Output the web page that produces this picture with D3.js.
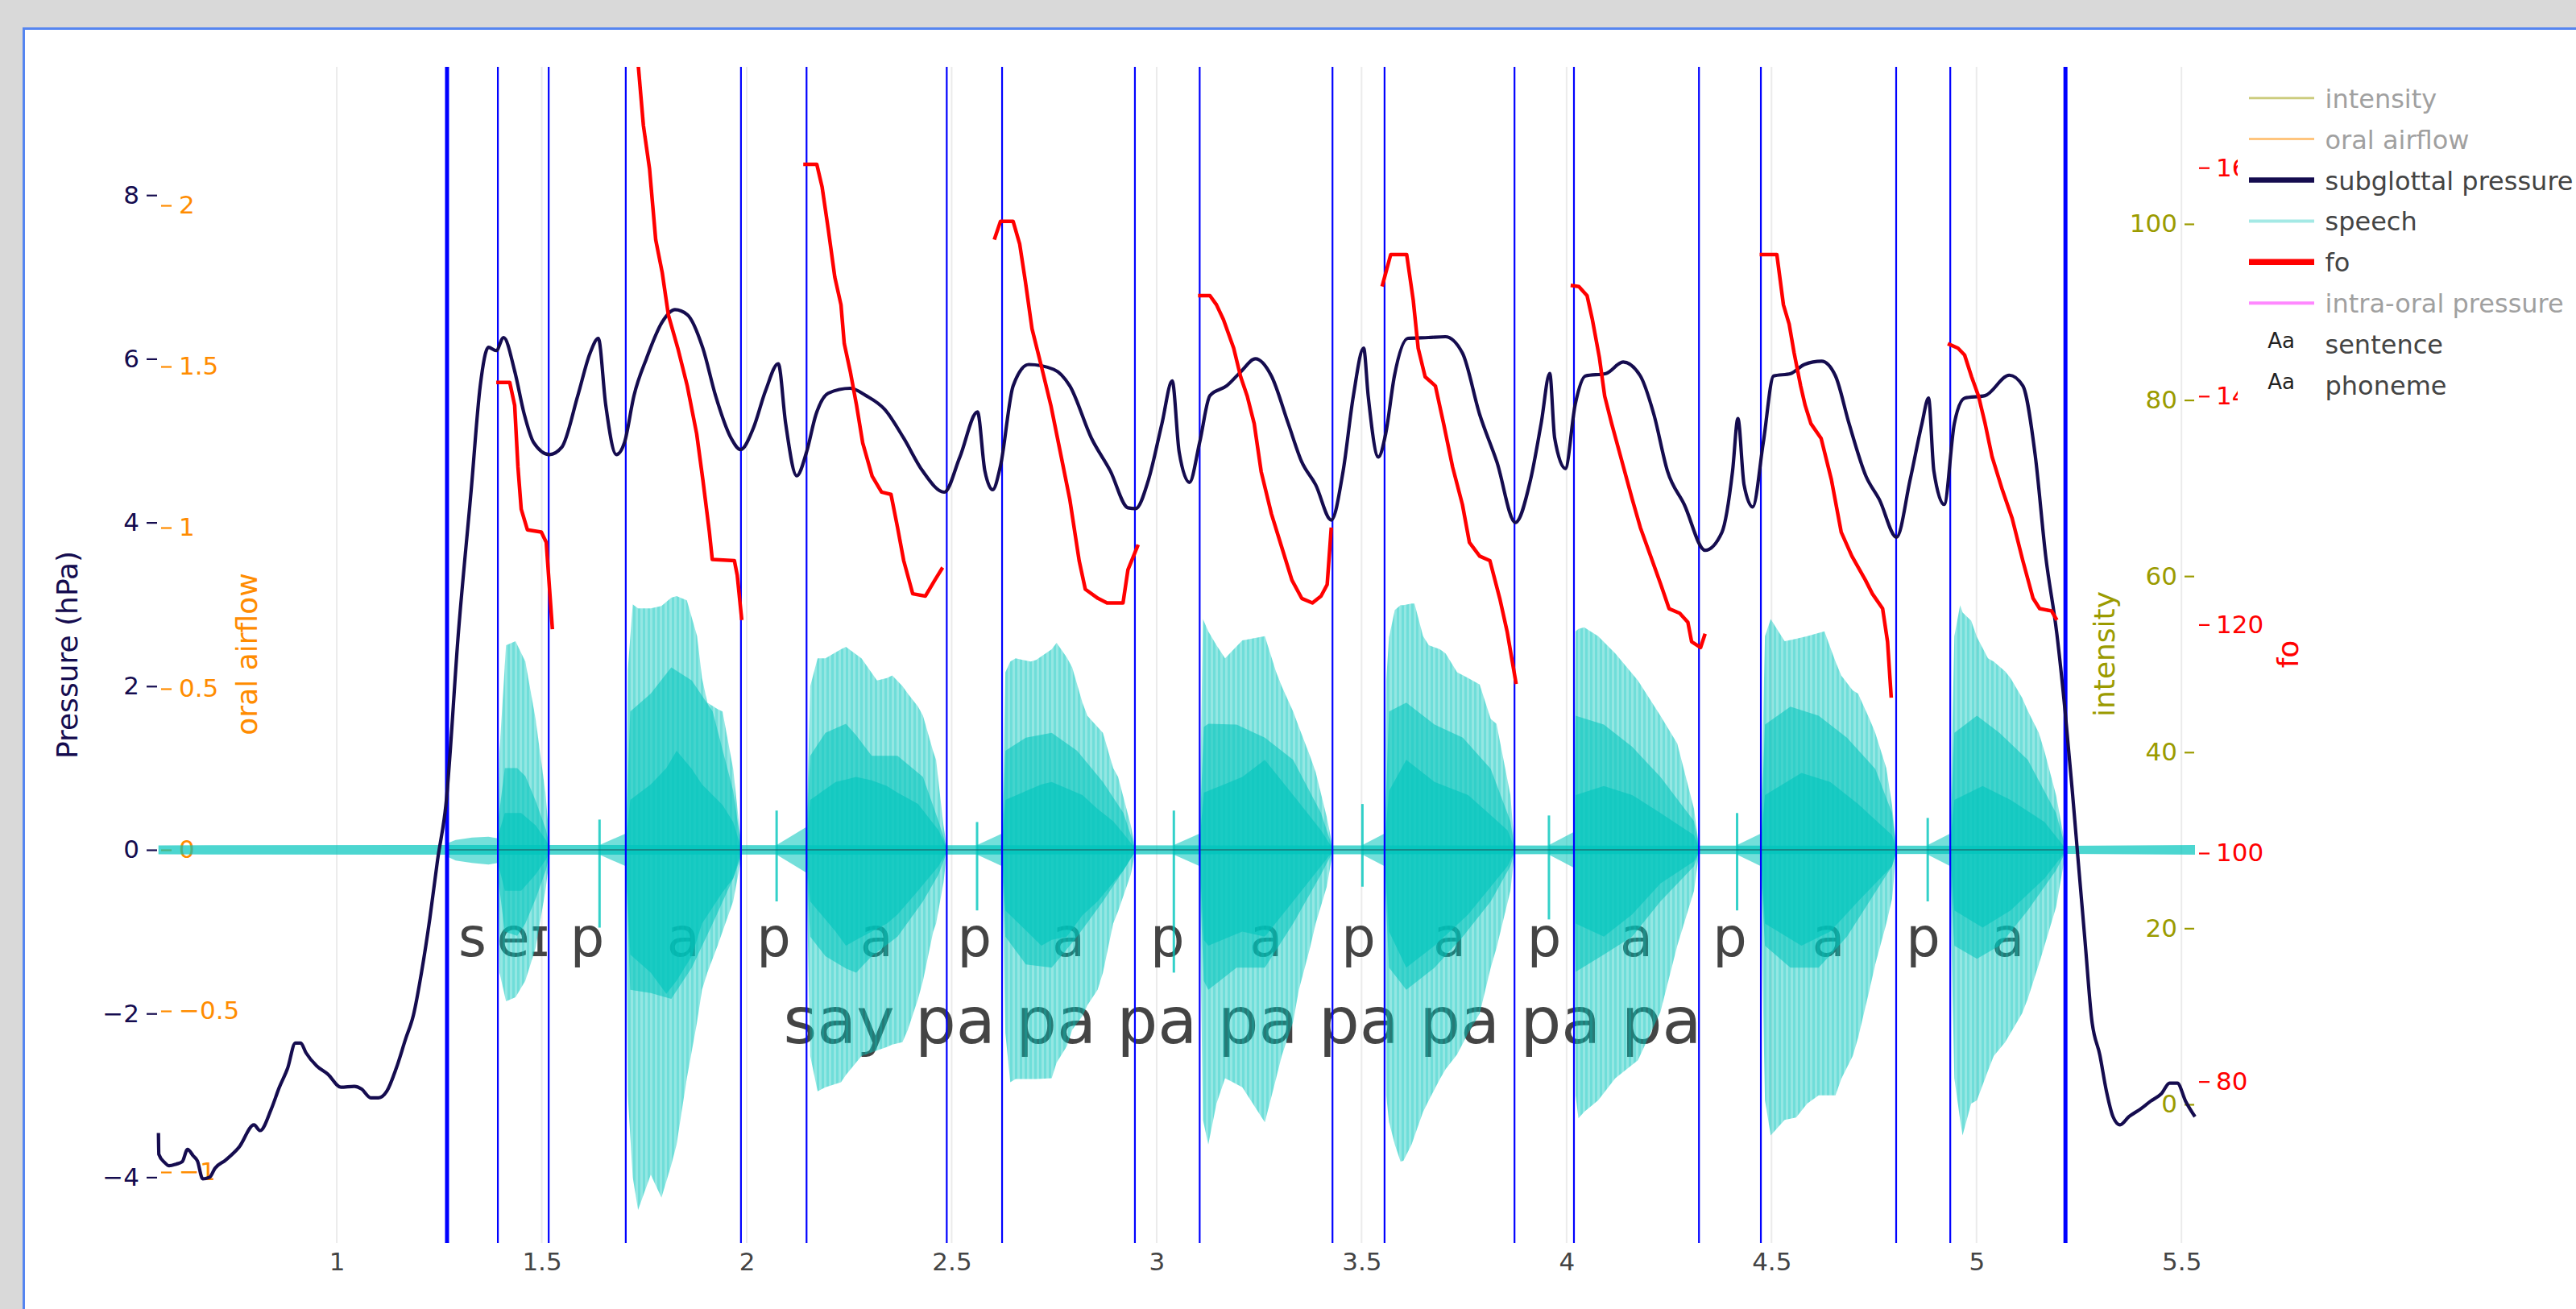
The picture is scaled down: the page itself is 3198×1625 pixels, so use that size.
<!DOCTYPE html>
<html><head><meta charset="utf-8">
<script src="https://cdn.jsdelivr.net/npm/d3@7"></script>
<style>
html,body{margin:0;padding:0;background:#d9d9d9;overflow:hidden;}
svg{display:block;}
text{font-family:"DejaVu Sans",Verdana,sans-serif;}
</style></head><body>
<svg id="chart" width="3198" height="1625"></svg>
<script>
// ---------------- DATA ----------------
const xTicks = [1, 1.5, 2, 2.5, 3, 3.5, 4, 4.5, 5, 5.5];
const pressureTicks = [-4, -2, 0, 2, 4, 6, 8];
const airflowTicks = [-1, -0.5, 0, 0.5, 1, 1.5, 2];
const intensityTicks = [0, 20, 40, 60, 80, 100];
const foTicks = [80, 100, 120, 140, 160];

const phonemeBounds = [1.269, 1.393, 1.517, 1.705, 1.986, 2.146, 2.488, 2.623, 2.947, 3.105, 3.429, 3.556, 3.873, 4.018, 4.323, 4.474, 4.804, 4.936, 5.217];
const phonemeLabels = ["s", "eɪ", "p", "a", "p", "a", "p", "a", "p", "a", "p", "a", "p", "a", "p", "a", "p", "a"];
const sentenceBounds = [1.269, 5.217];
const sentenceText = "say pa pa pa pa pa pa pa pa";

// subglottal pressure (hPa): [time s, value]
const subglottalPressure = [
 [0.565,-3.46],[0.566,-3.72],[0.580,-3.82],[0.591,-3.86],[0.608,-3.84],[0.623,-3.81],[0.636,-3.66],[0.650,-3.74],[0.660,-3.80],[0.673,-4.02],[0.690,-4.00],[0.703,-3.89],[0.729,-3.79],[0.762,-3.63],[0.798,-3.36],[0.813,-3.43],[0.840,-3.17],[0.860,-2.90],[0.880,-2.67],[0.899,-2.36],[0.912,-2.36],[0.925,-2.48],[0.951,-2.64],[0.978,-2.74],[1.010,-2.90],[1.043,-2.89],[1.060,-2.92],[1.083,-3.03],[1.102,-3.03],[1.122,-2.95],[1.145,-2.67],[1.168,-2.31],[1.187,-2.02],[1.207,-1.49],[1.227,-0.84],[1.246,-0.12],[1.266,0.54],
 [1.297,2.67],[1.328,4.40],[1.350,5.67],[1.370,6.14],[1.389,6.10],[1.407,6.26],[1.434,5.85],[1.457,5.33],[1.480,4.98],[1.519,4.83],[1.549,4.92],[1.588,5.55],[1.618,6.07],[1.638,6.25],[1.656,5.44],[1.682,4.83],[1.702,4.98],[1.725,5.55],[1.756,6.01],[1.794,6.45],[1.825,6.60],[1.855,6.54],[1.893,6.13],[1.924,5.55],[1.962,5.03],[1.985,4.89],[2.016,5.15],[2.046,5.61],[2.077,5.94],[2.095,5.21],[2.122,4.57],[2.146,4.86],[2.169,5.32],[2.199,5.58],[2.253,5.64],[2.291,5.55],[2.337,5.38],[2.383,5.03],[2.429,4.63],[2.482,4.37],[2.520,4.80],[2.563,5.35],[2.581,4.63],[2.600,4.40],[2.619,4.69],[2.650,5.67],[2.688,5.93],[2.749,5.87],[2.788,5.67],[2.841,5.03],[2.887,4.63],[2.930,4.18],
 [2.949,4.17],[2.980,4.52],[3.013,5.21],[3.038,5.73],[3.055,4.86],[3.080,4.49],[3.105,4.98],[3.130,5.55],[3.171,5.67],[3.205,5.84],[3.241,6.00],[3.280,5.79],[3.321,5.21],[3.354,4.74],[3.388,4.46],[3.426,4.03],[3.455,4.63],[3.480,5.55],[3.505,6.13],[3.516,5.55],[3.541,4.80],[3.559,5.09],[3.580,5.79],[3.613,6.25],[3.663,6.26],[3.704,6.27],[3.746,6.07],[3.788,5.32],[3.830,4.74],[3.875,4.00],[3.912,4.52],[3.938,5.21],[3.959,5.82],[3.971,5.03],[3.997,4.66],[4.021,5.44],[4.046,5.79],[4.096,5.82],[4.138,5.96],[4.180,5.79],[4.213,5.32],[4.246,4.63],[4.287,4.22],[4.338,3.66],[4.379,3.88],[4.405,4.63],[4.418,5.27],[4.433,4.46],[4.454,4.19],[4.480,4.98],[4.505,5.79],[4.547,5.82],[4.580,5.93],[4.622,5.97],[4.656,5.79],[4.689,5.21],[4.730,4.57],[4.763,4.28],[4.805,3.82],[4.838,4.52],[4.867,5.21],[4.883,5.52],[4.896,4.63],[4.921,4.22],[4.946,5.21],[4.971,5.52],[5.021,5.55],[5.080,5.80],[5.113,5.67],[5.143,4.83],[5.169,3.58],[5.196,2.64],[5.216,1.70],[5.233,0.76],[5.249,-0.19],[5.265,-1.13],[5.281,-2.07],[5.301,-2.51],[5.317,-2.95],[5.333,-3.26],[5.350,-3.36],[5.372,-3.26],[5.399,-3.17],[5.425,-3.07],[5.451,-2.98],[5.471,-2.85],[5.490,-2.85],[5.510,-3.07],[5.533,-3.26]
];

// fo (Hz) per voiced stretch: [time s, Hz]
const foSegments = [
 [[1.389,141.2],[1.422,141.2],[1.434,139.2],[1.442,133.8],[1.450,130.1],[1.465,128.3],[1.499,128.1],[1.511,127.2],[1.526,119.6]],
 [[1.705,172],[1.733,170],[1.748,163.7],[1.763,159.9],[1.778,153.7],[1.794,150.8],[1.809,147.1],[1.832,144.2],[1.855,140.9],[1.878,136.7],[1.893,132.7],[1.909,128.1],[1.916,125.7],[1.970,125.6],[1.977,124.3],[1.988,120.4]],
 [[2.138,160.3],[2.171,160.3],[2.184,158.3],[2.199,154.6],[2.215,150.4],[2.230,148.0],[2.238,144.6],[2.253,142.1],[2.268,139.2],[2.283,135.9],[2.306,133.0],[2.329,131.6],[2.352,131.4],[2.368,128.5],[2.383,125.6],[2.405,122.7],[2.436,122.5],[2.459,123.9],[2.478,125.0]],
 [[2.604,153.7],[2.619,155.3],[2.650,155.3],[2.666,153.3],[2.680,150.0],[2.696,145.9],[2.719,142.6],[2.742,139.2],[2.765,135.1],[2.788,131.0],[2.811,125.6],[2.826,123.1],[2.857,122.3],[2.879,121.9],[2.918,121.9],[2.930,124.8],[2.955,127.0]],
 [[3.101,148.8],[3.130,148.8],[3.146,148.0],[3.163,146.7],[3.188,144.2],[3.205,141.7],[3.221,140.0],[3.238,137.6],[3.255,133.4],[3.280,129.7],[3.305,126.8],[3.330,123.9],[3.354,122.3],[3.380,121.9],[3.401,122.5],[3.416,123.5],[3.426,128.5]],
 [[3.550,149.6],[3.571,152.4],[3.610,152.4],[3.626,148.4],[3.638,144.2],[3.655,141.7],[3.680,140.9],[3.700,137.6],[3.722,133.8],[3.746,130.5],[3.763,127.2],[3.788,126.0],[3.813,125.6],[3.837,122.3],[3.855,119.4],[3.877,114.8]],
 [[4.010,149.7],[4.030,149.6],[4.050,148.8],[4.063,146.7],[4.080,143.4],[4.093,140.0],[4.110,137.6],[4.132,134.7],[4.160,131.0],[4.180,128.5],[4.205,126.0],[4.230,123.5],[4.250,121.4],[4.276,121.0],[4.296,120.2],[4.305,118.5],[4.327,118.0],[4.338,119.2]],
 [[4.471,152.4],[4.513,152.4],[4.529,148.0],[4.543,146.3],[4.555,143.8],[4.571,140.9],[4.582,139.2],[4.596,137.6],[4.621,136.3],[4.646,132.7],[4.670,128.1],[4.696,126.0],[4.729,123.9],[4.746,122.7],[4.771,121.4],[4.783,118.5],[4.792,113.6]],
 [[4.930,144.6],[4.955,144.2],[4.971,143.6],[4.988,141.7],[5.005,140.0],[5.021,137.6],[5.038,134.7],[5.063,131.8],[5.087,129.3],[5.113,125.6],[5.138,122.3],[5.154,121.4],[5.183,121.2],[5.196,120.4]]
];

// speech waveform envelopes (same units as pressure axis): [time, upper, lower]
const speechOuter = [
 [[1.393,0,0],[1.397,1.2,-1.5],[1.413,2.5,-1.85],[1.436,2.55,-1.8],[1.460,2.3,-1.6],[1.485,1.6,-1.2],[1.509,0.7,-0.5],[1.519,0.1,-0.1]],
 [[1.705,0.3,-0.3],[1.710,2.2,-3.0],[1.722,3.0,-4.0],[1.735,2.95,-4.4],[1.766,2.95,-3.97],[1.792,2.98,-4.25],[1.816,3.08,-3.85],[1.829,3.1,-3.6],[1.854,3.05,-2.79],[1.879,2.61,-2.1],[1.891,2.1,-1.71],[1.904,1.8,-1.5],[1.929,1.72,-1.17],[1.941,1.69,-1.0],[1.967,0.99,-0.63],[1.985,0.15,-0.15]],
 [[2.146,0.2,-0.3],[2.155,2.0,-2.52],[2.173,2.34,-2.95],[2.192,2.34,-2.9],[2.230,2.45,-2.84],[2.242,2.48,-2.75],[2.280,2.34,-2.52],[2.318,2.07,-2.45],[2.342,2.1,-2.41],[2.355,2.13,-2.38],[2.380,2.0,-2.35],[2.393,1.91,-2.2],[2.418,1.75,-1.82],[2.430,1.64,-1.6],[2.455,1.2,-1.0],[2.462,1.1,-0.9],[2.480,0.3,-0.4],[2.488,0.05,-0.05]],
 [[2.623,0.2,-0.3],[2.631,2.17,-2.24],[2.643,2.3,-2.84],[2.656,2.34,-2.8],[2.693,2.3,-2.8],[2.706,2.32,-2.8],[2.744,2.45,-2.79],[2.756,2.53,-2.6],[2.781,2.35,-2.4],[2.794,2.23,-2.2],[2.819,1.8,-2.03],[2.831,1.64,-1.9],[2.856,1.5,-1.71],[2.869,1.43,-1.5],[2.894,1.0,-0.9],[2.906,0.89,-0.75],[2.937,0.3,-0.3],[2.947,0.05,-0.05]],
 [[3.105,0.3,-0.5],[3.113,2.82,-3.3],[3.126,2.67,-3.6],[3.146,2.5,-3.1],[3.167,2.34,-2.79],[3.209,2.56,-2.9],[3.264,2.61,-3.33],[3.291,2.18,-2.8],[3.305,2.0,-2.52],[3.333,1.69,-2.1],[3.347,1.5,-1.71],[3.374,1.15,-1.2],[3.388,0.95,-0.9],[3.415,0.4,-0.45],[3.429,0.05,-0.05]],
 [[3.556,0.3,-0.5],[3.560,2.07,-3.0],[3.567,2.6,-3.33],[3.581,2.93,-3.6],[3.595,2.99,-3.81],[3.602,2.99,-3.8],[3.622,3.01,-3.6],[3.629,3.01,-3.5],[3.650,2.61,-3.2],[3.664,2.5,-3.06],[3.691,2.45,-2.8],[3.705,2.4,-2.68],[3.733,2.17,-2.5],[3.760,2.1,-2.24],[3.788,2.02,-2.0],[3.815,1.6,-1.44],[3.829,1.54,-1.2],[3.863,0.67,-0.5],[3.873,0.05,-0.05]],
 [[4.018,0.3,-0.5],[4.022,2.67,-3.0],[4.029,2.7,-3.28],[4.043,2.72,-3.2],[4.077,2.61,-3.06],[4.119,2.4,-2.79],[4.174,2.07,-2.57],[4.229,1.64,-1.98],[4.270,1.3,-1.17],[4.311,0.5,-0.5],[4.323,0.05,-0.05]],
 [[4.474,0.3,-0.5],[4.484,2.61,-3.06],[4.498,2.82,-3.49],[4.532,2.55,-3.3],[4.560,2.58,-3.27],[4.587,2.61,-3.1],[4.615,2.65,-3.0],[4.629,2.67,-3.0],[4.656,2.3,-3.0],[4.670,2.13,-2.8],[4.698,1.95,-2.52],[4.711,1.91,-2.3],[4.739,1.6,-1.71],[4.753,1.43,-1.4],[4.780,1.0,-0.9],[4.794,0.55,-0.6],[4.804,0.05,-0.05]],
 [[4.936,0.3,-0.5],[4.946,2.61,-2.79],[4.960,2.99,-3.3],[4.966,2.9,-3.49],[4.987,2.8,-3.1],[5.001,2.6,-3.06],[5.028,2.34,-2.7],[5.042,2.3,-2.52],[5.070,2.18,-2.35],[5.083,2.1,-2.24],[5.111,1.86,-2.0],[5.125,1.7,-1.82],[5.152,1.43,-1.4],[5.166,1.2,-1.17],[5.194,0.67,-0.7],[5.217,0.05,-0.05]]
];
const speechMid = [
 [[1.395,0.4,-0.4],[1.41,1.0,-1.0],[1.44,1.0,-1.05],[1.46,0.9,-0.9],[1.485,0.6,-0.6],[1.51,0.25,-0.25],[1.519,0.05,-0.05]],
 [[1.705,0.2,-0.2],[1.716,1.69,-1.71],[1.766,1.91,-1.75],[1.816,2.23,-1.82],[1.866,2.07,-1.44],[1.917,1.69,-0.9],[1.967,0.72,-0.35],[1.985,0.1,-0.1]],
 [[2.146,0.2,-0.2],[2.155,1.15,-1.06],[2.192,1.43,-1.3],[2.242,1.54,-1.45],[2.267,1.4,-1.5],[2.305,1.15,-1.3],[2.368,1.15,-1.06],[2.430,0.89,-0.63],[2.468,0.35,-0.3],[2.488,0.03,-0.03]],
 [[2.623,0.2,-0.2],[2.631,1.21,-1.06],[2.681,1.37,-1.4],[2.744,1.43,-1.44],[2.806,1.21,-1.06],[2.869,0.83,-0.63],[2.919,0.45,-0.25],[2.947,0.03,-0.03]],
 [[3.105,0.2,-0.3],[3.115,1.5,-1.6],[3.126,1.54,-1.71],[3.195,1.53,-1.44],[3.264,1.37,-1.44],[3.333,1.1,-0.9],[3.401,0.45,-0.3],[3.429,0.03,-0.03]],
 [[3.556,0.2,-0.3],[3.567,1.69,-1.44],[3.609,1.8,-1.71],[3.678,1.53,-1.44],[3.747,1.37,-1.06],[3.815,0.99,-0.63],[3.863,0.35,-0.2],[3.873,0.03,-0.03]],
 [[4.018,0.2,-0.3],[4.022,1.64,-1.49],[4.091,1.53,-1.28],[4.160,1.26,-1.06],[4.229,0.89,-0.63],[4.311,0.35,-0.2],[4.323,0.03,-0.03]],
 [[4.474,0.2,-0.3],[4.484,1.53,-1.17],[4.546,1.75,-1.44],[4.615,1.64,-1.44],[4.684,1.37,-1.06],[4.753,0.99,-0.52],[4.794,0.45,-0.2],[4.804,0.03,-0.03]],
 [[4.936,0.2,-0.3],[4.946,1.43,-1.17],[5.001,1.64,-1.33],[5.056,1.43,-1.17],[5.125,1.1,-0.74],[5.194,0.45,-0.25],[5.217,0.03,-0.03]]
];
const speechCore = [
 [[1.395,0.2,-0.2],[1.41,0.45,-0.5],[1.45,0.45,-0.5],[1.485,0.3,-0.3],[1.51,0.12,-0.12],[1.519,0.03,-0.03]],
 [[1.705,0.1,-0.1],[1.716,0.61,-1.28],[1.766,0.8,-1.5],[1.804,1.0,-1.76],[1.829,1.21,-1.6],[1.866,0.99,-1.3],[1.891,0.8,-0.9],[1.941,0.55,-0.52],[1.967,0.34,-0.35],[1.985,0.05,-0.05]],
 [[2.146,0.1,-0.1],[2.155,0.61,-0.63],[2.217,0.83,-1.0],[2.242,0.86,-1.17],[2.267,0.89,-1.1],[2.305,0.85,-1.0],[2.342,0.78,-0.9],[2.368,0.7,-0.79],[2.418,0.56,-0.5],[2.468,0.24,-0.2],[2.488,0.02,-0.02]],
 [[2.623,0.1,-0.1],[2.631,0.61,-0.74],[2.719,0.8,-1.17],[2.744,0.83,-1.1],[2.781,0.75,-1.06],[2.819,0.67,-0.8],[2.856,0.5,-0.63],[2.894,0.35,-0.4],[2.919,0.2,-0.25],[2.947,0.02,-0.02]],
 [[3.105,0.1,-0.1],[3.115,0.7,-1.1],[3.126,0.72,-1.17],[3.209,0.89,-1.0],[3.264,1.1,-1.06],[3.333,0.67,-0.63],[3.401,0.24,-0.2],[3.429,0.02,-0.02]],
 [[3.556,0.1,-0.1],[3.567,0.72,-1.0],[3.609,1.1,-1.44],[3.678,0.83,-1.17],[3.760,0.67,-0.79],[3.856,0.24,-0.2],[3.873,0.02,-0.02]],
 [[4.018,0.1,-0.1],[4.022,0.67,-0.9],[4.091,0.78,-1.06],[4.160,0.67,-0.79],[4.229,0.45,-0.41],[4.311,0.18,-0.14],[4.323,0.02,-0.02]],
 [[4.474,0.1,-0.1],[4.484,0.67,-0.9],[4.573,0.94,-1.17],[4.643,0.83,-1.0],[4.711,0.56,-0.63],[4.794,0.18,-0.2],[4.804,0.02,-0.02]],
 [[4.936,0.1,-0.1],[4.946,0.61,-0.74],[5.015,0.78,-0.95],[5.083,0.61,-0.74],[5.166,0.34,-0.35],[5.217,0.02,-0.02]]
];
const speechBaselineNoise = [[0.565,0.055,-0.055],[1.269,0.06,-0.06],[5.217,0.05,-0.05],[5.533,0.06,-0.06]];
const speechFricative = [[1.269,0.08,-0.08],[1.290,0.12,-0.13],[1.330,0.15,-0.16],[1.370,0.16,-0.18],[1.393,0.14,-0.16]];
const speechAspiration = [[1.641,1.705,0.2],[2.073,2.146,0.28],[2.562,2.623,0.2],[3.042,3.105,0.2],[3.502,3.556,0.2],[3.957,4.018,0.22],[4.416,4.474,0.2],[4.881,4.936,0.2]];
const speechBursts = [[1.641,0.37,-0.95],[2.073,0.48,-0.63],[2.562,0.34,-0.74],[3.042,0.48,-1.5],[3.502,0.56,-0.45],[3.957,0.42,-0.85],[4.416,0.45,-0.74],[4.881,0.39,-0.63]];

const legendItems = [
 {name:"intensity", color:"#9b9b00", width:3, hidden:true},
 {name:"oral airflow", color:"#ff8c00", width:3, hidden:true},
 {name:"subglottal pressure", color:"#150c4f", width:6.5, hidden:false},
 {name:"speech", color:"#a4e9e5", width:4, hidden:false},
 {name:"fo", color:"#ff0000", width:7.5, hidden:false},
 {name:"intra-oral pressure", color:"#ff14ff", width:4, hidden:true},
 {name:"sentence", text:true},
 {name:"phoneme", text:true}
];

// ---------------- DRAW ----------------
const W = 3198, H = 1625;
const NAVY = "#150c4f", ORANGE = "#ff8c00", OLIVE = "#9b9b00", RED = "#ff0000", GREY = "#444";
const svg = d3.select("#chart");
svg.append("rect").attr("width", W).attr("height", H).attr("fill", "#d9d9d9");
svg.append("rect").attr("x", 29.5).attr("y", 35.5).attr("width", W + 10).attr("height", H + 10)
  .attr("fill", "#fff").attr("stroke", "#5585f0").attr("stroke-width", 3);

const plot = {left: 196.7, right: 2725, top: 83, bottom: 1543};
const x = d3.scaleLinear().domain([0.565, 5.533]).range([plot.left, plot.right]);
const yP = d3.scaleLinear().domain([-4.803, 9.567]).range([plot.bottom, plot.top]);
const yA = d3.scaleLinear().domain([-1.22, 2.43]).range([plot.bottom, plot.top]);
const yI = d3.scaleLinear().domain([-15.74, 117.84]).range([plot.bottom, plot.top]);
const yF = d3.scaleLinear().domain([65.87, 168.83]).range([plot.bottom, plot.top]);

const defs = svg.append("defs");
defs.append("clipPath").attr("id", "plotclip").append("rect")
  .attr("x", plot.left).attr("y", plot.top).attr("width", plot.right - plot.left).attr("height", plot.bottom - plot.top);
const pat = defs.append("pattern").attr("id", "stripes").attr("patternUnits", "userSpaceOnUse")
  .attr("width", 6).attr("height", 20);
pat.append("rect").attr("width", 6).attr("height", 20).attr("fill", "rgba(0,197,188,0.42)");
pat.append("rect").attr("width", 3).attr("height", 20).attr("fill", "rgba(0,197,188,0.25)");

// gridlines
svg.append("g").selectAll("line").data(xTicks).join("line")
  .attr("x1", d => x(d)).attr("x2", d => x(d)).attr("y1", plot.top).attr("y2", plot.bottom)
  .attr("stroke", "#ebebeb").attr("stroke-width", 2);

const fmt = d3.format("~g");
function styleAxis(g, color, fontSize) {
  g.select(".domain").remove();
  g.selectAll(".tick line").attr("stroke", color).attr("stroke-width", 2.2);
  g.selectAll(".tick text").attr("fill", color).attr("font-size", fontSize)
    .attr("font-family", "DejaVu Sans, Verdana, sans-serif");
}
svg.append("g").attr("transform", `translate(0,${plot.bottom})`)
  .call(d3.axisBottom(x).tickValues(xTicks).tickFormat(fmt).tickSize(0).tickPadding(12))
  .call(g => styleAxis(g, GREY, 31));
svg.append("g").attr("transform", "translate(195,0)")
  .call(d3.axisLeft(yP).tickValues(pressureTicks).tickFormat(fmt).tickSize(13).tickPadding(9))
  .call(g => styleAxis(g, NAVY, 31));
svg.append("g").attr("transform", "translate(200,0)")
  .call(d3.axisRight(yA).tickValues(airflowTicks).tickFormat(fmt).tickSize(13).tickPadding(9))
  .call(g => styleAxis(g, ORANGE, 31));
svg.append("g").attr("transform", "translate(2724,0)")
  .call(d3.axisLeft(yI).tickValues(intensityTicks).tickFormat(fmt).tickSize(12).tickPadding(9))
  .call(g => styleAxis(g, OLIVE, 31));
svg.append("g").attr("transform", "translate(2730,0)")
  .call(d3.axisRight(yF).tickValues(foTicks).tickFormat(fmt).tickSize(13).tickPadding(8))
  .call(g => styleAxis(g, RED, 31));

// phoneme + sentence labels (under the waveform)
const labels = svg.append("g").attr("fill", GREY);
labels.selectAll("text.ph").data(phonemeLabels).join("text").attr("class", "ph")
  .attr("x", (d, i) => x((phonemeBounds[i] + phonemeBounds[i + 1]) / 2))
  .attr("y", 1187).attr("text-anchor", "middle").attr("font-size", 67).text(d => d);
labels.append("text")
  .attr("x", x((sentenceBounds[0] + sentenceBounds[1]) / 2)).attr("dx", -17).attr("y", 1295)
  .attr("text-anchor", "middle").attr("font-size", 80).text(sentenceText);

// speech waveform
const sp = svg.append("g");
const env = d3.area().x(d => x(d[0])).y0(d => yP(d[2])).y1(d => yP(d[1]));
const SPC = "rgba(0,197,188,0.55)";
sp.append("path").datum(speechBaselineNoise).attr("d", env).attr("fill", "rgba(0,197,188,0.7)");
sp.append("path").datum(speechFricative).attr("d", env).attr("fill", SPC);
sp.selectAll("path.asp").data(speechAspiration).join("path").attr("class", "asp")
  .attr("d", d => env([[d[0], 0.06, -0.06], [d[1], d[2], -d[2]]])).attr("fill", SPC);
sp.selectAll("line.burst").data(speechBursts).join("line").attr("class", "burst")
  .attr("x1", d => x(d[0])).attr("x2", d => x(d[0]))
  .attr("y1", d => yP(d[1])).attr("y2", d => yP(d[2]))
  .attr("stroke", "rgba(0,197,188,0.8)").attr("stroke-width", 3);
sp.selectAll("path.outer").data(speechOuter).join("path").attr("class", "outer")
  .attr("d", env).attr("fill", "url(#stripes)");
sp.selectAll("path.mid").data(speechMid).join("path").attr("class", "mid")
  .attr("d", env).attr("fill", SPC);
sp.selectAll("path.core").data(speechCore).join("path").attr("class", "core")
  .attr("d", env).attr("fill", "rgba(0,197,188,0.6)");
svg.append("line").attr("x1", x(sentenceBounds[0])).attr("x2", x(sentenceBounds[1]))
  .attr("y1", yP(0)).attr("y2", yP(0)).attr("stroke", "#1f5c60").attr("stroke-opacity", 0.75).attr("stroke-width", 1.6);

// boundaries
svg.append("g").selectAll("line").data(phonemeBounds).join("line")
  .attr("x1", d => x(d)).attr("x2", d => x(d)).attr("y1", plot.top).attr("y2", plot.bottom)
  .attr("stroke", "#0000ff").attr("stroke-width", 2.2);
svg.append("g").selectAll("line").data(sentenceBounds).join("line")
  .attr("x1", d => x(d)).attr("x2", d => x(d)).attr("y1", plot.top).attr("y2", plot.bottom)
  .attr("stroke", "#0000ff").attr("stroke-width", 5);

// subglottal pressure
svg.append("path").datum(subglottalPressure)
  .attr("d", d3.line().x(d => x(d[0])).y(d => yP(d[1])).curve(d3.curveMonotoneX))
  .attr("fill", "none").attr("stroke", NAVY).attr("stroke-width", 4.2).attr("stroke-linejoin", "round");

// fo
svg.append("g").attr("clip-path", "url(#plotclip)").selectAll("path").data(foSegments).join("path")
  .attr("d", d3.line().x(d => x(d[0])).y(d => yF(d[1])))
  .attr("fill", "none").attr("stroke", RED).attr("stroke-width", 4.5).attr("stroke-linejoin", "round");

// axis titles
function vTitle(txt, cx, cy, color) {
  svg.append("text").attr("transform", `translate(${cx},${cy}) rotate(-90)`)
    .attr("text-anchor", "middle").attr("dominant-baseline", "central")
    .attr("font-size", 36).attr("fill", color).text(txt);
}
vTitle("Pressure (hPa)", 83, 813, NAVY);
vTitle("oral airflow", 306, 812, ORANGE);
vTitle("intensity", 2612, 812, OLIVE);
vTitle("fo", 2840, 812, RED);

// legend
const lg = svg.append("g");
lg.append("rect").attr("x", 2778).attr("y", 88).attr("width", 430).attr("height", 422).attr("fill", "#fff");
const rows = lg.selectAll("g.item").data(legendItems).join("g").attr("class", "item")
  .attr("transform", (d, i) => `translate(2792,${121.7 + i * 50.9})`)
  .attr("opacity", d => d.hidden ? 0.5 : 1);
rows.filter(d => !d.text).append("line").attr("x1", 0).attr("x2", 81).attr("y1", 0).attr("y2", 0)
  .attr("stroke", d => d.color).attr("stroke-width", d => d.width);
rows.filter(d => d.text).append("text").attr("x", 40).attr("y", 5).attr("text-anchor", "middle")
  .attr("font-size", 26).attr("fill", "#222").text("Aa");
rows.append("text").attr("x", 94.5).attr("y", 12).attr("font-size", 32).attr("fill", GREY).text(d => d.name);
</script>
</body></html>
